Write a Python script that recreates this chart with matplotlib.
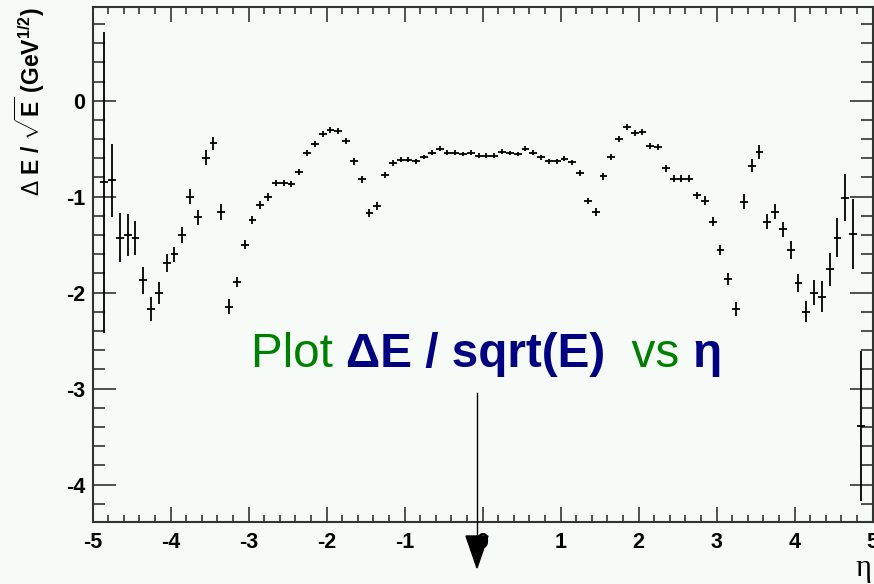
import numpy as np
import matplotlib
matplotlib.use('Agg')
from matplotlib import pyplot as plt
from matplotlib.lines import Line2D
from matplotlib.patches import Polygon
from matplotlib.ticker import MultipleLocator

plt.rcParams['font.family'] = ['Liberation Sans', 'DejaVu Sans']
plt.rcParams['axes.unicode_minus'] = False
plt.rcParams['mathtext.fontset'] = 'custom'
plt.rcParams['mathtext.rm'] = 'Liberation Sans'
plt.rcParams['mathtext.bf'] = 'Liberation Sans:bold'
plt.rcParams['mathtext.it'] = 'Liberation Sans:bold'

# 100 eta bins between -5 and 5, first and last bin empty
eta_edges = np.linspace(-5, 5, 101)
resolution = [np.nan,
    -0.85, -0.83, -1.43, -1.40, -1.43, -1.87, -2.17, -2.00, -1.69, -1.60,
    -1.40, -1.00, -1.215, -0.593, -0.444, -1.156, -2.146, -1.889, -1.50, -1.243,
    -1.087, -1.00, -0.857, -0.857, -0.868, -0.743, -0.545, -0.448, -0.344, -0.305,
    -0.312, -0.417, -0.630, -0.819, -1.173, -1.097, -0.774, -0.652, -0.614, -0.614,
    -0.632, -0.586, -0.541, -0.500, -0.541, -0.541, -0.555, -0.541, -0.575, -0.573,
    -0.573, -0.531, -0.545, -0.555, -0.500, -0.541, -0.590, -0.632, -0.632, -0.604,
    -0.642, -0.753, -1.045, -1.159, -0.788, -0.583, -0.402, -0.271, -0.333, -0.326,
    -0.469, -0.482, -0.704, -0.812, -0.812, -0.812, -0.986, -1.042, -1.26, -1.559,
    -1.857, -2.17, -1.052, -0.677, -0.534, -1.26, -1.156, -1.34, -1.555, -1.896,
    -2.198, -2.00, -2.04, -1.757, -1.427, -1.01, -1.389, -3.385,
    np.nan]
resolution_err = [np.nan,
    1.57, 0.38, 0.255, 0.217, 0.18, 0.142, 0.12, 0.116, 0.094, 0.078,
    0.08, 0.076, 0.075, 0.075, 0.07, 0.083, 0.078, 0.05, 0.045, 0.045,
    0.04, 0.04, 0.035, 0.03, 0.03, 0.03, 0.03, 0.03, 0.03, 0.03,
    0.03, 0.03, 0.035, 0.035, 0.04, 0.04, 0.035, 0.03, 0.025, 0.025,
    0.025, 0.025, 0.025, 0.025, 0.025, 0.025, 0.025, 0.025, 0.025, 0.025,
    0.025, 0.025, 0.025, 0.025, 0.025, 0.025, 0.025, 0.025, 0.025, 0.025,
    0.025, 0.03, 0.035, 0.04, 0.035, 0.03, 0.03, 0.03, 0.03, 0.03,
    0.03, 0.03, 0.035, 0.035, 0.035, 0.04, 0.04, 0.045, 0.05, 0.052,
    0.065, 0.078, 0.08, 0.066, 0.076, 0.078, 0.078, 0.078, 0.092, 0.095,
    0.108, 0.127, 0.158, 0.174, 0.205, 0.247, 0.361, 0.78,
    np.nan]

eta = 0.5 * (eta_edges[:-1] + eta_edges[1:])
half_width = 0.5 * np.diff(eta_edges)

W, H = 874, 584
bg = '#f6fbf8'
fig = plt.figure(figsize=(W / 100, H / 100), dpi=100, facecolor=bg)
ax = fig.add_axes([92.5 / W, 1 - 522.3 / H, 780 / W, 515 / H], facecolor=bg)

ax.errorbar(eta, resolution, xerr=half_width, yerr=resolution_err,
            fmt='none', ecolor='k', elinewidth=1.3, capsize=0)

ax.set_xlim(-5, 5)
ax.set_ylim(-4.392, 0.973)
ax.xaxis.set_major_locator(MultipleLocator(1))
ax.xaxis.set_minor_locator(MultipleLocator(0.2))
ax.yaxis.set_major_locator(MultipleLocator(1))
ax.yaxis.set_minor_locator(MultipleLocator(0.2))

ax.tick_params(axis='both', which='both', direction='in', top=True, right=True,
               color='#333333', width=1.2, labelsize=15.5)
ax.tick_params(axis='x', which='major', length=11, pad=7)
ax.tick_params(axis='x', which='minor', length=5.3)
ax.tick_params(axis='y', which='major', length=16.5, pad=5)
ax.tick_params(axis='y', which='minor', length=8.6)
for lab in ax.get_xticklabels() + ax.get_yticklabels():
    lab.set_fontweight('bold')
for sp in ax.spines.values():
    sp.set_color('#333333')
    sp.set_linewidth(1.5)

fig.text(30 / W, 1 - 7 / H,
         r'$\Delta$ E / $\sqrt{\mathbf{E}}$ (GeV$^{\mathbf{1/2}}$)',
         rotation=90, ha='center', va='top', fontsize=16.5, fontweight='bold')
fig.text(871 / W, 1 - 576 / H, 'η', ha='right', va='baseline',
         fontsize=22, family='Liberation Serif')

# title made of coloured pieces on one baseline
green, navy = '#008000', '#000080'
pieces = [('Plot ', green, 'normal'), ('ΔE / sqrt(E)', navy, 'bold'),
          ('  vs ', green, 'normal'), ('η', navy, 'bold')]
renderer = fig.canvas.get_renderer()
x = 251.0
for s, c, w in pieces:
    t = fig.text(x / W, 1 - 366.7 / H, s, color=c, fontweight=w,
                 fontsize=34.3, va='baseline', ha='left')
    bb = t.get_window_extent(renderer)
    x += bb.width

# arrow pointing down to eta = 0
fig.add_artist(Line2D([477 / W, 477 / W], [1 - 393 / H, 1 - 540 / H],
                      color='k', lw=1.0))
fig.add_artist(Polygon([[466 / W, 1 - 536 / H], [488 / W, 1 - 536 / H],
                        [477 / W, 1 - 568 / H]], closed=True,
                       facecolor='k', edgecolor='k'))

fig.savefig('out.png', dpi=100, facecolor=bg)
